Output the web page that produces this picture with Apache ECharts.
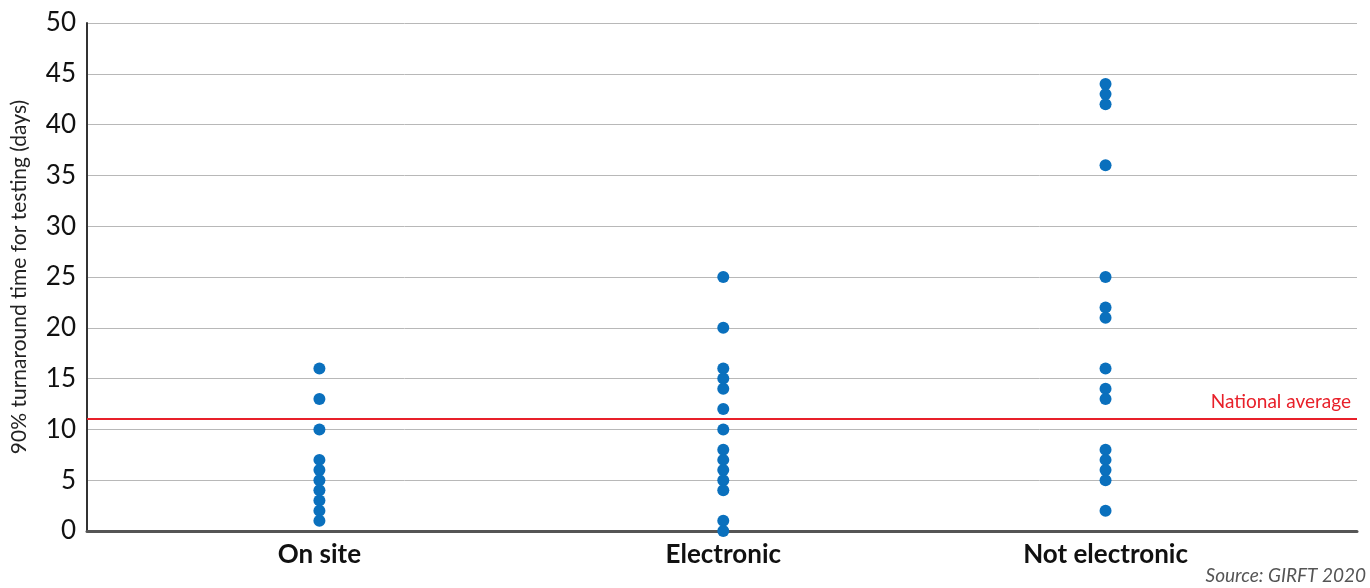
<!DOCTYPE html>
<html><head><meta charset="utf-8">
<script src="https://cdn.jsdelivr.net/npm/echarts@6/dist/echarts.min.js"></script>
<style>html,body{margin:0;padding:0;background:#fff}#c{width:1370px;height:588px}</style>
</head><body><div id="c"></div>
<script>
const categories = ['On site', 'Electronic', 'Not electronic'];
const onSite = [16, 13, 10, 7, 6, 5, 4, 3, 2, 1];
const electronic = [25, 20, 16, 15, 14, 12, 10, 8, 7, 6, 5, 4, 1, 0];
const notElectronic = [44, 43, 42, 36, 25, 22, 21, 16, 14, 13, 8, 7, 6, 5, 2];
const nationalAverage = 11;
const yTicks = [0, 5, 10, 15, 20, 25, 30, 35, 40, 45, 50];

// layout: horizontal placement of each category column (fraction of plot width)
const colPos = [0.183, 0.501, 0.802];

const seriesValues = [onSite, electronic, notElectronic];
const points = [];
seriesValues.forEach((arr, i) => arr.forEach(v => points.push([colPos[i], v])));

const chart = echarts.init(document.getElementById('c'), null, {renderer: 'canvas'});
chart.setOption({
  animation: false,
  textStyle: {fontFamily: 'Lato'},
  grid: {left: 87, right: 13, top: 23, bottom: 57, containLabel: false, outerBoundsMode: 'none'},
  xAxis: {
    type: 'value', min: 0, max: 1,
    splitLine: {show: false},
    axisTick: {show: false},
    axisLine: {show: true, lineStyle: {color: '#555', width: 3}},
    axisLabel: {
      customValues: colPos,
      formatter: v => { const i = colPos.indexOf(v); return i >= 0 ? categories[i] : ''; },
      fontFamily: 'Lato', fontWeight: 'bold', fontSize: 26, color: '#111', margin: 11
    }
  },
  yAxis: {
    type: 'value', min: yTicks[0], max: yTicks[yTicks.length - 1], interval: 5,
    name: '90% turnaround time for testing (days)',
    nameLocation: 'middle', nameGap: 57, nameRotate: 90,
    nameTextStyle: {fontFamily: 'Lato', fontSize: 21, color: '#222'},
    axisLine: {show: true, lineStyle: {color: '#333', width: 2}},
    axisTick: {show: false},
    axisLabel: {fontFamily: 'Lato', fontSize: 26, color: '#111', margin: 11},
    splitLine: {show: true, lineStyle: {color: '#b8b8b8', width: 1}}
  },
  series: [{
    type: 'scatter',
    symbolSize: 12,
    itemStyle: {color: '#0a70bd', opacity: 1},
    data: points,
    markLine: {
      silent: true, symbol: 'none',
      lineStyle: {color: '#e8202a', width: 2, type: 'solid'},
      label: {show: true, position: 'insideEndTop', formatter: 'National average',
        color: '#e8202a', fontFamily: 'Lato', fontSize: 19, distance: [6, 8]},
      data: [{yAxis: nationalAverage}]
    }
  }],
  graphic: [{
    type: 'text', right: 4, top: 566,
    style: {text: 'Source: GIRFT 2020', fontFamily: 'Lato', fontStyle: 'italic',
      fontSize: 19, fill: '#555', textAlign: 'right'}
  }]
});
</script></body></html>
